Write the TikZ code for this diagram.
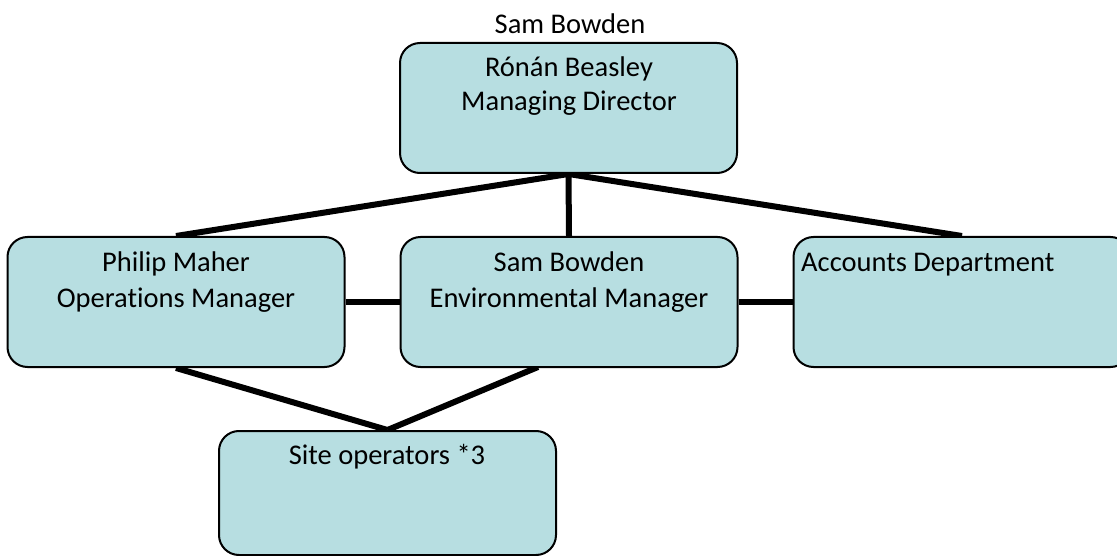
\documentclass[tikz,border=0pt]{standalone}
\usepackage{fontspec}
\setmainfont{Carlito}[Ligatures=NoCommon]
\definecolor{boxfill}{RGB}{183,222,225}
\pgfdeclarelayer{back}
\pgfsetlayers{back,main}
\begin{document}
\begin{tikzpicture}[x=1pt,y=-1pt,
  box/.style={draw=black, line width=2pt, fill=boxfill, rounded corners=20pt,
              minimum width=337pt, minimum height=130pt, inner sep=0pt},
  txt/.style={font=\fontsize{28.5}{35}\selectfont, align=center, inner sep=0pt},
  link/.style={line width=6pt}]
\useasboundingbox (0,0) rectangle (1117,556);

% boxes
\node[box] (md) at (568.5,108) {};
\node[box] (ops) at (176,302) {};
\node[box] (env) at (569,302) {};
\node[box] (acc) at (962,302) {};
\node[box, minimum height=124pt] (site) at (387.5,493) {};

% texts
\node[txt, anchor=base] (mdhead) at (570,34) {Sam Bowden};
\node[txt, anchor=base] (mdname) at (569,77) {Rónán Beasley};
\node[txt, anchor=base] (mdrole) at (569,111) {Managing Director};
\node[txt, anchor=base] (opsname) at (176,272) {Philip Maher};
\node[txt, anchor=base] (opsrole) at (176,307) {Operations Manager};
\node[txt, anchor=base] (envname) at (569,272) {Sam Bowden};
\node[txt, anchor=base] (envrole) at (569,307) {Environmental Manager};
\node[txt, anchor=base west] (acctxt) at (801,272) {Accounts Department};
\node[txt, anchor=base] (sitetxt) at (387,464) {Site operators *3};

% connectors
\coordinate (envfoot) at (538,367);
\begin{pgfonlayer}{back}
\draw[link] (md.south) -- (ops.north);
\draw[link] (md.south) -- (env.north);
\draw[link] (md.south) -- (acc.north);
\draw[link] (ops.east) -- (env.west);
\draw[link] (env.east) -- (acc.west);
\draw[link] (ops.south) -- (site.north);
\draw[link] (envfoot) -- (site.north);
\end{pgfonlayer}
\end{tikzpicture}
\end{document}
